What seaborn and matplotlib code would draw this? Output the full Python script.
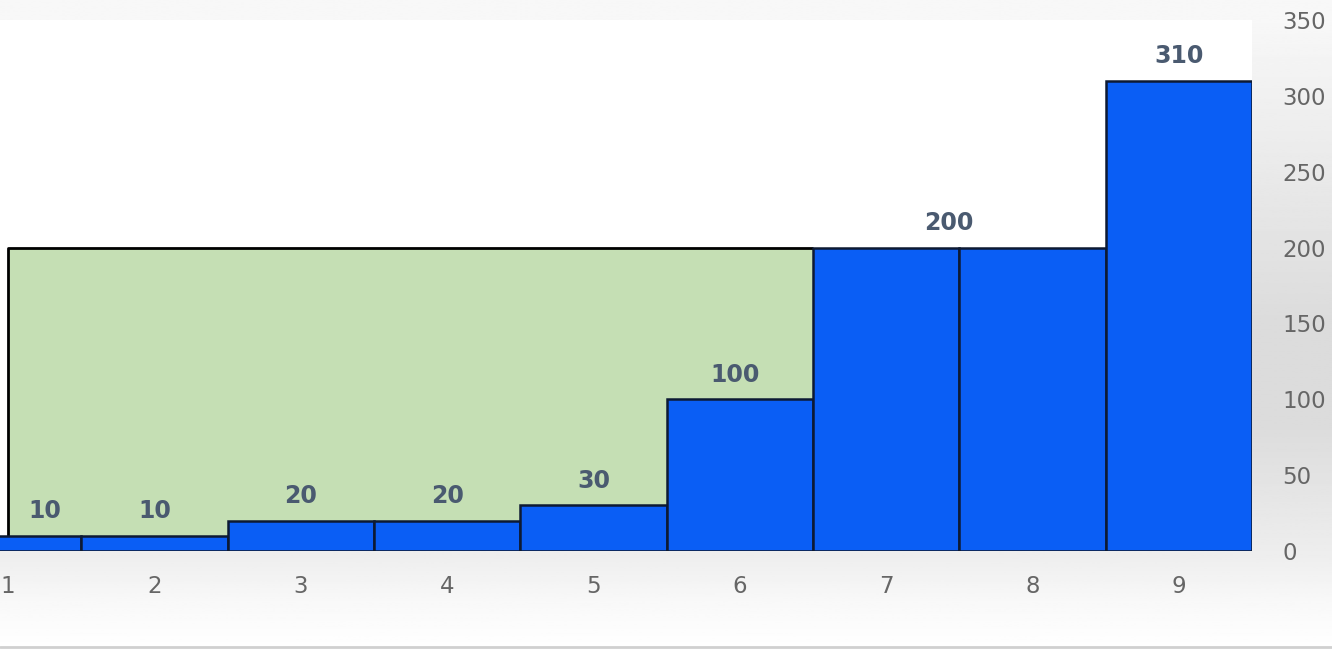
import numpy as np
import pandas as pd
import seaborn as sns
import matplotlib.pyplot as plt

# data
positions = [1, 2, 3, 4, 5, 6, 7, 8, 9]
values = [10, 10, 20, 20, 30, 100, 200, 200, 310]
# where each value label sits (None = no label)
label_x = [1.25, 2, 3, 4, 5, 5.97, 7.43, None, 9]
label_text = ['10', '10', '20', '20', '30', '100', '200', None, '310']

band_start = 1
band_end = 6.5
band_level = 200

y_ticks = [0, 50, 100, 150, 200, 250, 300, 350]

df = pd.DataFrame({'pos': positions, 'value': values})

sns.set_theme(style='white')
plt.rcParams['font.family'] = ['DejaVu Sans']

fig = plt.figure(figsize=(13.32, 6.5), dpi=100)

# grey gradient background over the whole figure
bg = fig.add_axes([0, 0, 1, 1], zorder=-10)
stops_y = [0.0, 0.07, 0.15, 0.35, 0.5, 0.97, 1.0]
stops_v = [1.0, 0.975, 0.93, 0.86, 0.86, 0.97, 0.97]
yy = np.linspace(0, 1, 300)
grad = np.interp(yy, stops_y, stops_v)
bg.imshow(np.tile(grad[:, None], (1, 2)), aspect='auto', cmap='gray',
          vmin=0, vmax=1, extent=[0, 1, 0, 1], origin='lower')
bg.axhline(0.004, color='#d0d0d0', lw=2)
bg.set_axis_off()

ax = fig.add_axes([0, 0.1523, 1252 / 1332, 531 / 650])
ax.set_facecolor('white')

# green band behind the bars
ax.fill_between([band_start, band_end], 0, band_level, color='#c5dfb4', zorder=1, lw=0)
ax.plot([band_start, band_start, band_end], [0, band_level, band_level],
        color='black', lw=2, zorder=2, solid_capstyle='butt')

sns.barplot(data=df, x='pos', y='value', native_scale=True, width=1,
            color='#0a5ef5', saturation=1, edgecolor='#0d1a33', linewidth=1.8,
            ax=ax, zorder=3)

for lx, txt, v in zip(label_x, label_text, values):
    if txt is None:
        continue
    ax.annotate(txt, (lx, v), xytext=(0, 9), textcoords='offset points',
                ha='center', va='bottom', fontsize=17, fontweight='bold',
                color='#4a5a70', zorder=5)

ax.set_xlim(0.945, 9.5)
ax.set_ylim(0, 350)
ax.set_xticks(positions)
ax.set_xticklabels([str(p) for p in positions])
ax.set_yticks(y_ticks)
ax.yaxis.tick_right()
ax.tick_params(axis='y', length=0, pad=22, labelsize=16.5, labelcolor='#666666')
ax.tick_params(axis='x', length=0, pad=17, labelsize=16.5, labelcolor='#666666')
for lab in ax.get_yticklabels():
    lab.set_horizontalalignment('left')
ax.set_xlabel('')
ax.set_ylabel('')
for s in ax.spines.values():
    s.set_visible(False)

fig.savefig('out.png', dpi=100)
